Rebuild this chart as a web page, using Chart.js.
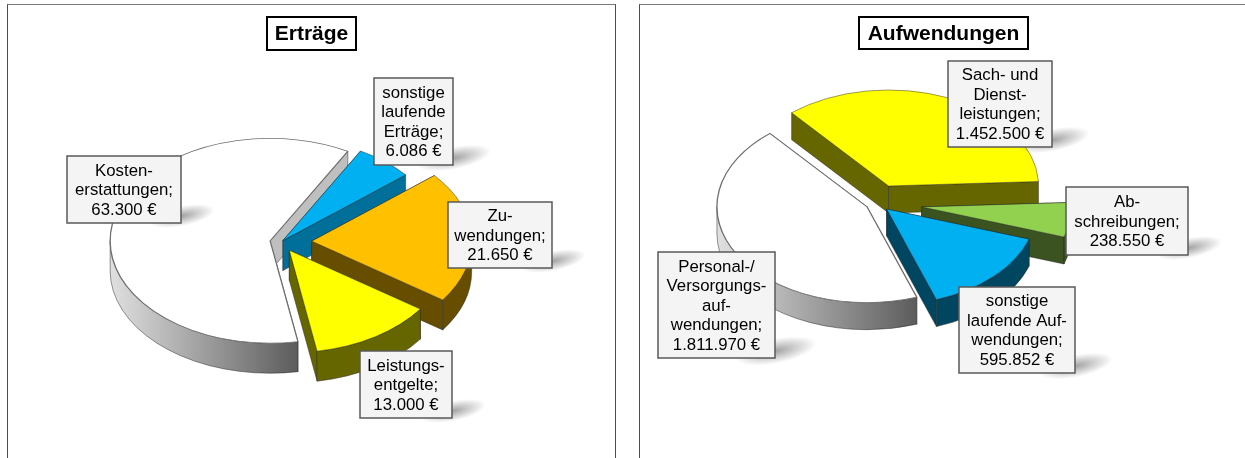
<!DOCTYPE html>
<html>
<head>
<meta charset="utf-8">
<script src="https://cdn.jsdelivr.net/npm/chart.js@4/dist/chart.umd.js"></script>
<style>
  html, body { margin: 0; background: #fff; overflow: hidden; }
  .frame { position: absolute; top: 4px; height: 454px; border: solid #4d4d4d; border-top-color: #7a7a7a; border-width: 1.5px 1.5px 0 1.5px; box-sizing: border-box; }
  canvas { position: absolute; top: 5px; }
</style>
</head>
<body>
<div class="frame" style="left:7px;width:609px"></div>
<div class="frame" style="left:639px;width:620px"></div>
<canvas id="ertraege" width="607" height="453" style="left:8px"></canvas>
<canvas id="aufwendungen" width="605" height="453" style="left:640px"></canvas>
<script>
// Werte
const ertraegeKategorien = ["Kosten-\nerstattungen", "sonstige\nlaufende\nErträge", "Zu-\nwendungen", "Leistungs-\nentgelte"];
const ertraegeWerte = [63300, 6086, 21650, 13000];

const aufwandKategorien = ["Personal-/\nVersorgungs-\nauf-\nwendungen", "Sach- und\nDienst-\nleistungen", "Ab-\nschreibungen", "sonstige\nlaufende Auf-\nwendungen"];
const aufwandWerte = [1811970, 1452500, 238550, 595852];

// Farben
const ertraegeFarben = ["#ffffff", "#00b0f0", "#ffc000", "#ffff00"];
const ertraegeSeiten = ["#bfbfbf", "#006f99", "#664d00", "#666600"];
const aufwandFarben = ["#ffffff", "#ffff00", "#92d050", "#00b0f0"];
const aufwandSeiten = ["#bfbfbf", "#666600", "#3a5320", "#004660"];

// Explosion in px und Position der Beschriftungen [links, oben, rechts, unten]
const ertraegeExplode = [11, 3, 30.7, 15.5];
const ertraegeBoxen = [[59, 151, 173, 218], [366, 73, 445, 160], [440, 197, 544, 263], [352, 346, 444, 413]];
const aufwandExplode = [11.6, 29, 45, 13.5];
const aufwandBoxen = [[18, 247, 135, 353], [308, 56, 412, 142], [426, 182, 548, 250], [319, 282, 435, 368]];

const KY = 0.64;

function formatEuro(v) {
  return String(v).replace(/\B(?=(\d{3})+$)/g, ".") + " €";
}

const pie3d = {
  id: "pie3d",
  beforeDatasetDraw(chart, args, opts) {
    const ctx = chart.ctx;
    args.meta.data.forEach((arc, i) => {
      const mid = (arc.startAngle + arc.endAngle) / 2;
      const x = arc.x + Math.cos(mid) * opts.explode[i];
      const y = arc.y + Math.sin(mid) * opts.explode[i] * KY;
      const r = arc.outerRadius;
      ctx.save();
      ctx.lineWidth = 0.7;
      ctx.strokeStyle = "rgba(40,40,40,.7)";

      // Schnittflaechen
      ctx.fillStyle = opts.sides[i];
      [arc.startAngle, arc.endAngle].forEach(a => {
        const px = x + Math.cos(a) * r, py = y + Math.sin(a) * r * KY;
        ctx.beginPath();
        ctx.moveTo(x, y);
        ctx.lineTo(px, py);
        ctx.lineTo(px, py + opts.depth);
        ctx.lineTo(x, y + opts.depth);
        ctx.closePath();
        ctx.fill();
        ctx.stroke();
      });

      // Aussenkante, nur der vordere Teil
      for (let k = -1; k < 3; k++) {
        const a0 = Math.max(arc.startAngle, k * 2 * Math.PI);
        const a1 = Math.min(arc.endAngle, k * 2 * Math.PI + Math.PI);
        if (a1 <= a0) continue;
        if (i === 0) {
          const g = ctx.createLinearGradient(x - r, 0, x + Math.cos(a0) * r, 0);
          g.addColorStop(0, "#e0e0e0");
          g.addColorStop(1, "#5c5c5c");
          ctx.fillStyle = g;
        }
        ctx.beginPath();
        ctx.ellipse(x, y, r, r * KY, 0, a0, a1);
        ctx.ellipse(x, y + opts.depth, r, r * KY, 0, a1, a0, true);
        ctx.closePath();
        ctx.fill();
        ctx.stroke();
      }

      // Deckflaeche zeichnet das Element selbst
      ctx.translate(x, y);
      ctx.scale(1, KY);
      ctx.translate(-arc.x, -arc.y);
      arc.draw(ctx);
      ctx.restore();
    });
    return false;
  },
  afterDraw(chart, args, opts) {
    const ctx = chart.ctx;
    const werte = chart.data.datasets[0].data;
    ctx.save();
    ctx.textAlign = "center";
    ctx.textBaseline = "middle";

    opts.boxes.forEach((b, i) => {
      const w = b[2] - b[0], h = b[3] - b[1];

      // weicher Schatten, leicht nach rechts oben gekippt
      const rad = 20 + h * 0.2;
      ctx.save();
      ctx.translate(b[2] + 1, b[3] - 7);
      ctx.rotate(-0.2);
      ctx.scale(1, 0.3);
      const g = ctx.createRadialGradient(0, 0, 0, 0, 0, rad);
      g.addColorStop(0, "rgba(0,0,0,.36)");
      g.addColorStop(1, "rgba(0,0,0,0)");
      ctx.fillStyle = g;
      ctx.fillRect(-rad, -rad, 2 * rad, 2 * rad);
      ctx.restore();

      ctx.fillStyle = "#f4f4f4";
      ctx.strokeStyle = "#595959";
      ctx.lineWidth = 1.5;
      ctx.fillRect(b[0], b[1], w, h);
      ctx.strokeRect(b[0], b[1], w, h);

      const lines = (chart.data.labels[i] + ";\n" + formatEuro(werte[i])).split("\n");
      ctx.fillStyle = "#000";
      ctx.font = "16.8px 'Liberation Sans'";
      const top = b[1] + h / 2 - (lines.length - 1) * 19.5 / 2;
      lines.forEach((l, n) => ctx.fillText(l, b[0] + w / 2, top + n * 19.5 + 1));
    });

    // Titel
    const t = opts.title;
    ctx.fillStyle = "#fff";
    ctx.strokeStyle = "#000";
    ctx.lineWidth = 2;
    ctx.fillRect(t.box[0], t.box[1], t.box[2] - t.box[0], t.box[3] - t.box[1]);
    ctx.strokeRect(t.box[0], t.box[1], t.box[2] - t.box[0], t.box[3] - t.box[1]);
    ctx.fillStyle = "#000";
    ctx.font = "bold 21px 'Liberation Sans'";
    ctx.fillText(t.text, (t.box[0] + t.box[2]) / 2, (t.box[1] + t.box[3]) / 2 + 1);
    ctx.restore();
  }
};

function tortenChart(id, kategorien, werte, farben, cfg) {
  return new Chart(document.getElementById(id), {
    type: "pie",
    data: {
      labels: kategorien,
      datasets: [{
        data: werte,
        backgroundColor: farben,
        borderColor: farben.map((f, i) => i === 0 ? "#6f6f6f" : "rgba(40,40,40,.7)"),
        borderWidth: farben.map((f, i) => i === 0 ? 1.3 : 0.8),
        radius: cfg.radius
      }]
    },
    options: {
      responsive: false,
      animation: false,
      rotation: cfg.rotation,
      layout: { padding: cfg.padding },
      plugins: {
        legend: { display: false },
        title: { display: false },
        tooltip: { enabled: false },
        pie3d: { explode: cfg.explode, sides: cfg.sides, boxes: cfg.boxes, depth: cfg.depth, title: cfg.title }
      }
    },
    plugins: [pie3d]
  });
}

tortenChart("ertraege", ertraegeKategorien, ertraegeWerte, ertraegeFarben, {
  radius: 160,
  rotation: 170,
  padding: { left: 0, right: 61, top: 21, bottom: 0 },
  explode: ertraegeExplode,
  sides: ertraegeSeiten,
  boxes: ertraegeBoxen,
  depth: 30,
  title: { text: "Erträge", box: [259, 12, 348, 45] }
});

tortenChart("aufwendungen", aufwandKategorien, aufwandWerte, aufwandFarben, {
  radius: 150,
  rotation: 160.6,
  padding: { left: 0, right: 131, top: 0, bottom: 57 },
  explode: aufwandExplode,
  sides: aufwandSeiten,
  boxes: aufwandBoxen,
  depth: 27,
  title: { text: "Aufwendungen", box: [219, 12, 388, 44] }
});
</script>
</body>
</html>
